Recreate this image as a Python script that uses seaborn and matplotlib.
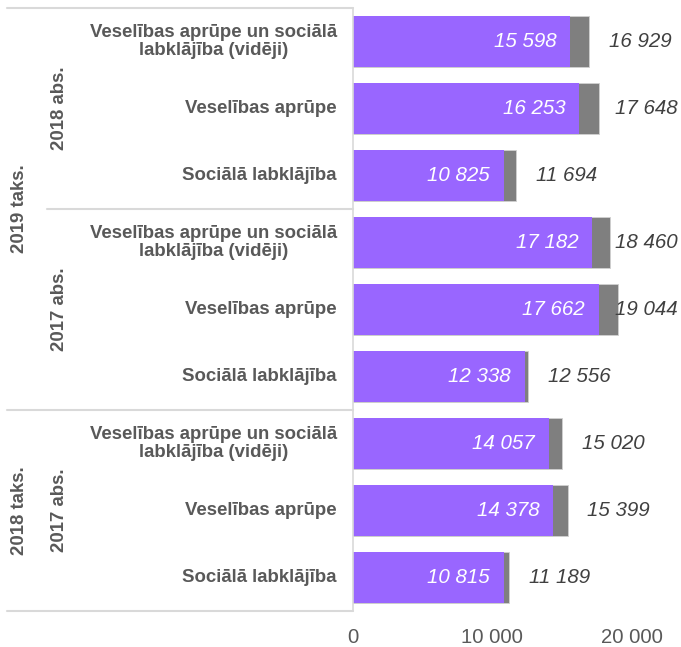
import matplotlib
matplotlib.use("Agg")
import matplotlib.pyplot as plt
import seaborn as sns
import pandas as pd

categories = [
    "Veselības aprūpe un sociālā\nlabklājība (vidēji)",
    "Veselības aprūpe",
    "Sociālā labklājība",
    "Veselības aprūpe un sociālā\nlabklājība (vidēji)",
    "Veselības aprūpe",
    "Sociālā labklājība",
    "Veselības aprūpe un sociālā\nlabklājība (vidēji)",
    "Veselības aprūpe",
    "Sociālā labklājība",
]
inner_group = ["2018 abs.", "2017 abs.", "2017 abs."]
outer_group = ["2019 taks.", "2018 taks."]
purple_values = [15598, 16253, 10825, 17182, 17662, 12338, 14057, 14378, 10815]
total_values = [16929, 17648, 11694, 18460, 19044, 12556, 15020, 15399, 11189]
xticks = [0, 10000, 20000]

sns.set_theme(style="white")
plt.rcParams["font.family"] = ["Liberation Sans", "DejaVu Sans"]

W, H = 681, 647
fig = plt.figure(figsize=(W / 100, H / 100), dpi=100)
left_px, top_px, bottom_px = 353, 8, 611
ax = fig.add_axes([left_px / W, 1 - bottom_px / H, 1 - left_px / W, (bottom_px - top_px) / H])

rows = [f"r{i}" for i in range(len(categories))]
df = pd.DataFrame({"row": rows, "purple": purple_values, "total": total_values})

sns.barplot(data=df, y="row", x="total", order=rows, color="#7F7F7F", saturation=1,
            width=0.77, orient="h", ax=ax, edgecolor="#D0D0D0", linewidth=0.6)
sns.barplot(data=df, y="row", x="purple", order=rows, color="#9966FF", saturation=1,
            width=0.77, orient="h", ax=ax, edgecolor="none", linewidth=0)

xmax = (W - left_px) / 0.01393
ax.set_xlim(0, xmax)
ax.set_ylim(len(rows) - 0.5, -0.5)
ax.set_xlabel("")
ax.set_ylabel("")
ax.set_yticks([])
ax.set_xticks(xticks)
ax.set_xticklabels([f"{t:,}".replace(",", " ") for t in xticks], fontsize=14.6, color="#595959")
ax.tick_params(axis="x", length=0, pad=12)
for s in ["top", "right", "bottom"]:
    ax.spines[s].set_visible(False)
ax.spines["left"].set_color("#D9D9D9")
ax.spines["left"].set_linewidth(1.2)

def fmt(v):
    return f"{v:,}".replace(",", " ")

px_per_unit = 0.01393
offset_units = 51 / px_per_unit
clamp = (646 - left_px) / px_per_unit
for i, (p, t) in enumerate(zip(purple_values, total_values)):
    ax.annotate(fmt(p), (p, i), xytext=(-14, 0), textcoords="offset pixels",
                ha="right", va="center", fontsize=14.8, style="italic", color="white")
    ax.text(min(t + offset_units, clamp), i, fmt(t), ha="center", va="center",
            fontsize=14.8, style="italic", color="#404040")

# label region
def fx(px):
    return px / W

def fy(py):
    return 1 - py / H

row_h = (bottom_px - top_px) / len(rows)
for i, c in enumerate(categories):
    yc = top_px + (i + 0.5) * row_h
    fig.text(fx(337), fy(yc), c, ha="right", va="center", multialignment="center",
             fontsize=13.4, fontweight="bold", color="#595959", linespacing=1.05)

for j, g in enumerate(inner_group):
    yc = top_px + (3 * j + 1.5) * row_h
    fig.text(fx(60), fy(yc), g, ha="center", va="center", rotation=90,
             fontsize=13.4, fontweight="bold", color="#595959")

outer_spans = [(0, 6), (6, 9)]
for g, (a, b) in zip(outer_group, outer_spans):
    yc = top_px + (a + b) / 2 * row_h
    fig.text(fx(20), fy(yc), g, ha="center", va="center", rotation=90,
             fontsize=13.4, fontweight="bold", color="#595959")

line_kw = dict(color="#D9D9D9", linewidth=1.5, transform=fig.transFigure)
for py, x0 in [(top_px, 7), (top_px + 3 * row_h, 47), (top_px + 6 * row_h, 7), (bottom_px, 7)]:
    fig.add_artist(plt.Line2D([fx(x0), fx(left_px)], [fy(py), fy(py)], **line_kw))

fig.savefig("out.png", dpi=100)
